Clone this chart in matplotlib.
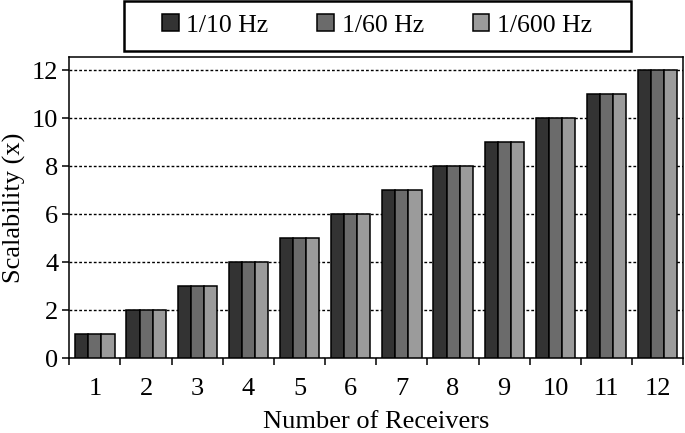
import numpy as np
import matplotlib.pyplot as plt
from matplotlib.patches import Rectangle

plt.rcParams['font.family'] = ['Liberation Serif', 'DejaVu Serif']

receivers = list(range(1, 13))
labels = ['1/10 Hz', '1/60 Hz', '1/600 Hz']
s10 = [1, 2, 3, 4, 5, 6, 7, 8, 9, 10, 11, 12]
s60 = [1, 2, 3, 4, 5, 6, 7, 8, 9, 10, 11, 12]
s600 = [1, 2, 3, 4, 5, 6, 7, 8, 9, 10, 11, 12]
colors = ['#333333', '#6b6b6b', '#9b9b9b']

fs = 19
fig = plt.figure(figsize=(6.85, 4.33), dpi=100)
ax = fig.add_axes([69.3 / 685, 1 - 358.3 / 433, 614 / 685, 301 / 433])

x = np.arange(len(receivers))
w = 0.256
for i, (vals, lab) in enumerate(zip([s10, s60, s600], labels)):
    ax.bar(x + (i - 1) * w, vals, w, color=colors[i], edgecolor='black',
           linewidth=1.1, label=lab, zorder=3)

ax.set_xlim(-0.5, len(receivers) - 0.5)
ax.set_ylim(0, 12.53)
ax.set_yticks(range(0, 13, 2))
ax.set_xticks(x)
ax.set_xticklabels([str(r) for r in receivers])
ax.set_xticks(np.arange(-0.5, len(receivers)), minor=True)
ax.tick_params(axis='x', which='major', length=0, labelsize=fs, pad=14)
ax.tick_params(axis='x', which='minor', length=5, width=1.1, direction='out')
ax.tick_params(axis='y', labelsize=fs, length=5, width=1.1, direction='out', pad=3)
ax.yaxis.grid(True, linestyle=(0, (2, 1.5)), color='black', linewidth=1.0, zorder=0)
for sp in ax.spines.values():
    sp.set_linewidth(1.1)

ax.set_xlabel('Number of Receivers', fontsize=fs, labelpad=8)
ax.set_ylabel('Scalability (x)', fontsize=fs, labelpad=4)

handles, labs = ax.get_legend_handles_labels()
leg = fig.legend(handles, labs, loc='center', bbox_to_anchor=(377 / 685, 1 - 25.5 / 433),
                 ncol=3, fontsize=18.5, frameon=False,
                 handlelength=0.66, handleheight=0.66, handletextpad=0.28,
                 columnspacing=1.9, borderpad=0)
fig.add_artist(Rectangle((123.5 / 685, 1 - 50.5 / 433), 507 / 685, 49.5 / 433,
                         transform=fig.transFigure, fill=False, edgecolor='black',
                         linewidth=1.8))

fig.savefig('out.png', dpi=100)
